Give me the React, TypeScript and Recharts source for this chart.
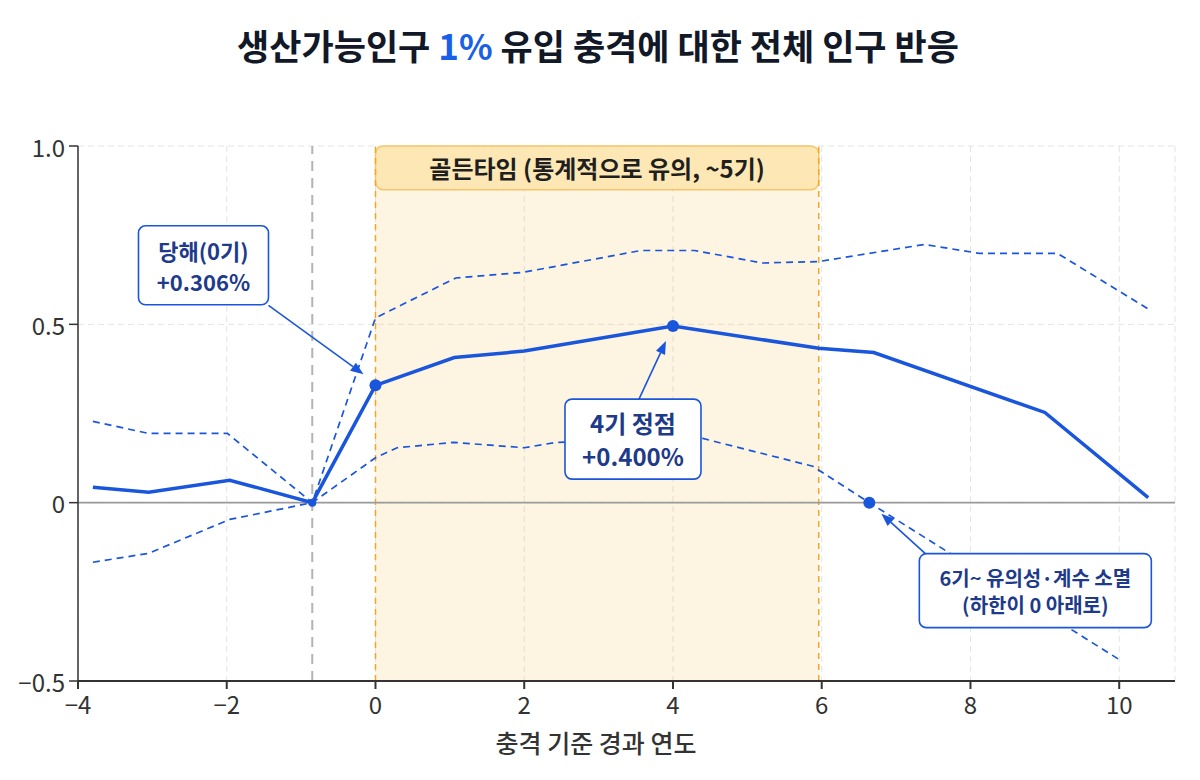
import { LineChart, Line, XAxis, YAxis, CartesianGrid, ReferenceLine, ReferenceArea, ReferenceDot } from 'recharts';

// values (x = years since shock, y = % response)
const mainYears = [-3.8, -3.05, -1.96, -0.85, 0, 1.06, 2, 4, 5.96, 6.7, 9, 10.39];
const mainValues = [0.043, 0.029, 0.063, 0, 0.329, 0.407, 0.425, 0.495, 0.433, 0.421, 0.253, 0.014];

const upperYears = [-3.8, -3.05, -1.99, -0.85, 0, 1.08, 1.99, 3.57, 4.29, 5.2, 5.96, 7.38, 8.12, 9.17, 10.39];
const upperValues = [0.228, 0.194, 0.194, 0, 0.518, 0.63, 0.646, 0.707, 0.707, 0.672, 0.676, 0.724, 0.699, 0.699, 0.543];

const lowerYears = [-3.8, -3.05, -1.96, -0.85, 0, 0.29, 1.05, 2, 2.43, 4.4, 5.88, 6.64, 10];
const lowerValues = [-0.167, -0.142, -0.047, 0, 0.126, 0.154, 0.169, 0.154, 0.169, 0.18, 0.102, 0, -0.44];

const xTicks = [-4, -2, 0, 2, 4, 6, 8, 10];
const yTicks = [-0.5, 0, 0.5, 1.0];

const baseYear = -0.85;
const goldenStart = 0;
const goldenEnd = 5.96;
const goldenLabelBottom = 0.877;

const zip = (xs: number[], ys: number[]) => xs.map((x, i) => ({ x, v: ys[i] }));
const mainData = zip(mainYears, mainValues);
const upperData = zip(upperYears, upperValues);
const lowerData = zip(lowerYears, lowerValues);

const BLUE = '#1a56db';
const NAVY = '#1e3a8a';
const FONT = "'Noto Sans CJK KR', 'Noto Sans', sans-serif";

const fmt = (v: number) => (v === 1 ? '1.0' : String(v).replace('-', '\u2212'));

const XTick = (props: any) => {
  const { x, y, payload } = props;
  return (
    <text x={x} y={y + 12} textAnchor="middle" dominantBaseline="central" fontSize={24} fill="#333" fontFamily={FONT}>
      {fmt(payload.value)}
    </text>
  );
};

const YTick = (props: any) => {
  const { x, y, payload } = props;
  return (
    <text x={x - 2} y={y} textAnchor="end" dominantBaseline="central" fontSize={24} fill="#333" fontFamily={FONT}>
      {fmt(payload.value)}
    </text>
  );
};

type CalloutSpec = {
  box: [number, number, number, number]; // centre dx, dy, width, height
  tail: [number, number];
  tip: [number, number];
  lines: string[];
  fontSize: number;
  lineGap: number;
};

function makeCallout(spec: CalloutSpec) {
  return (props: any) => {
    const { cx, cy } = props;
    const [bdx, bdy, w, h] = spec.box;
    const bx = cx + bdx - w / 2;
    const by = cy + bdy - h / 2;
    const x1 = cx + spec.tail[0];
    const y1 = cy + spec.tail[1];
    const x2 = cx + spec.tip[0];
    const y2 = cy + spec.tip[1];
    const ang = Math.atan2(y2 - y1, x2 - x1);
    const hl = 13;
    const hw = 5;
    const bxp = x2 - hl * Math.cos(ang);
    const byp = y2 - hl * Math.sin(ang);
    const px = -Math.sin(ang) * hw;
    const py = Math.cos(ang) * hw;
    const midY = cy + bdy;
    const n = spec.lines.length;
    return (
      <g>
        <line x1={x1} y1={y1} x2={bxp} y2={byp} stroke={BLUE} strokeWidth={1.6} />
        <polygon points={`${x2},${y2} ${bxp + px},${byp + py} ${bxp - px},${byp - py}`} fill={BLUE} />
        <rect x={bx} y={by} width={w} height={h} rx={7} fill="#fff" stroke={BLUE} strokeWidth={1.6} />
        {spec.lines.map((t, i) => (
          <text
            key={i}
            x={cx + bdx}
            y={midY + (i - (n - 1) / 2) * spec.lineGap}
            textAnchor="middle"
            dominantBaseline="central"
            fontSize={spec.fontSize}
            fontWeight={700}
            fill={NAVY}
            fontFamily={FONT}
          >
            {t}
          </text>
        ))}
      </g>
    );
  };
}

const calloutYear0 = makeCallout({
  box: [-172, -120, 130, 79],
  tail: [-107, -80],
  tip: [-12, -11],
  lines: ['당해(0기)', '+0.306%'],
  fontSize: 22,
  lineGap: 31,
});

const calloutPeak = makeCallout({
  box: [-40, 113, 136, 80],
  tail: [-34, 73],
  tip: [-7, 15],
  lines: ['4기 정점', '+0.400%'],
  fontSize: 24,
  lineGap: 33,
});

const calloutFade = makeCallout({
  box: [166, 88, 232, 74],
  tail: [56, 51],
  tip: [12, 11],
  lines: ['6기~ 유의성·계수 소멸', '(하한이 0 아래로)'],
  fontSize: 20,
  lineGap: 27,
});

const GoldenHeader = (props: any) => {
  const { x, y, width, height } = props;
  return (
    <g>
      <rect x={x} y={y} width={width} height={height} rx={8} fill="#fde7b4" stroke="#f6c56a" strokeWidth={1.5} />
      <text
        x={x + width / 2}
        y={y + height / 2}
        textAnchor="middle"
        dominantBaseline="central"
        fontSize={24}
        fontWeight={700}
        fill="#1f1f1f"
        fontFamily={FONT}
      >
        골든타임 (통계적으로 유의, ~5기)
      </text>
    </g>
  );
};

export default function App() {
  return (
    <div style={{ position: 'relative', width: 1200, height: 780, background: '#fff', fontFamily: FONT }}>
      <style>{'body{margin:0}'}</style>
      <div
        style={{
          position: 'absolute',
          top: 22,
          left: 0,
          width: 1196,
          textAlign: 'center',
          fontSize: 35,
          fontWeight: 700,
          color: '#111827',
          lineHeight: '46px',
        }}
      >
        생산가능인구 <span style={{ color: '#1a5fe8' }}>1%</span> 유입 충격에 대한 전체 인구 반응
      </div>

      <LineChart width={1200} height={780} margin={{ top: 146, right: 25, bottom: 39, left: 0 }} style={{ fontFamily: FONT }}>
        <CartesianGrid strokeDasharray="6 4" stroke="#e4e4e4" />
        <ReferenceArea x1={goldenStart} x2={goldenEnd} fill="#f7b234" fillOpacity={0.14} stroke="none" />
        <ReferenceLine x={goldenStart} stroke="#f5a623" strokeDasharray="6 5" strokeWidth={1.5} />
        <ReferenceLine x={goldenEnd} stroke="#f5a623" strokeDasharray="6 5" strokeWidth={1.5} />
        <ReferenceLine x={baseYear} stroke="#b3b3b3" strokeDasharray="10 7" strokeWidth={2} />
        <ReferenceLine y={0} stroke="#9a9a9a" strokeWidth={1.6} />
        <ReferenceArea x1={goldenStart} x2={goldenEnd} y1={goldenLabelBottom} y2={1} shape={GoldenHeader} />
        <XAxis
          type="number"
          dataKey="x"
          domain={[-4, 10.75]}
          ticks={xTicks}
          allowDataOverflow
          height={60}
          stroke="#333"
          strokeWidth={2}
          tickSize={8}
          tick={XTick}
        />
        <YAxis
          type="number"
          domain={[-0.5, 1]}
          ticks={yTicks}
          width={78}
          stroke="#333"
          strokeWidth={1.5}
          tickSize={9}
          tick={YTick}
        />
        <Line data={upperData} dataKey="v" type="linear" stroke={BLUE} strokeWidth={1.7} strokeDasharray="7 5" dot={false} activeDot={false} isAnimationActive={false} />
        <Line data={lowerData} dataKey="v" type="linear" stroke={BLUE} strokeWidth={1.7} strokeDasharray="7 5" dot={false} activeDot={false} isAnimationActive={false} />
        <Line data={mainData} dataKey="v" type="linear" stroke={BLUE} strokeWidth={3.5} dot={false} activeDot={false} isAnimationActive={false} />
        <ReferenceDot x={mainYears[3]} y={mainValues[3]} r={4} fill={BLUE} stroke="none" />
        <ReferenceDot x={mainYears[4]} y={mainValues[4]} r={6} fill={BLUE} stroke="none" />
        <ReferenceDot x={mainYears[7]} y={mainValues[7]} r={6} fill={BLUE} stroke="none" />
        <ReferenceDot x={lowerYears[11]} y={lowerValues[11]} r={6} fill={BLUE} stroke="none" />
        <ReferenceDot x={mainYears[4]} y={mainValues[4]} r={0} shape={calloutYear0} />
        <ReferenceDot x={mainYears[7]} y={mainValues[7]} r={0} shape={calloutPeak} />
        <ReferenceDot x={lowerYears[11]} y={lowerValues[11]} r={0} shape={calloutFade} />
      </LineChart>

      <div
        style={{
          position: 'absolute',
          top: 724,
          left: 446,
          width: 300,
          textAlign: 'center',
          fontSize: 25,
          fontWeight: 500,
          color: '#333',
          whiteSpace: 'nowrap',
        }}
      >
        충격 기준 경과 연도
      </div>
    </div>
  );
}
